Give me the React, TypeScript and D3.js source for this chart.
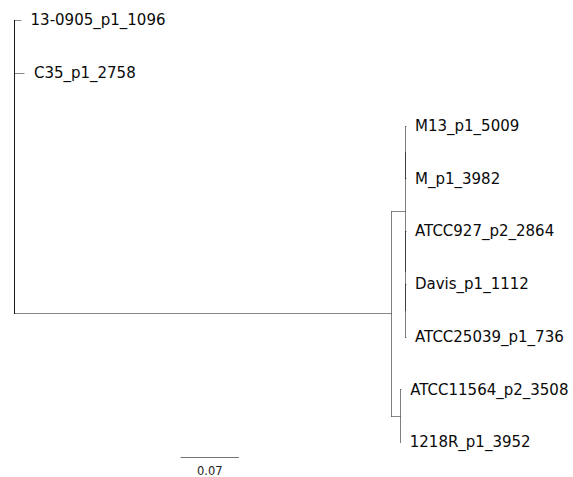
import React, { useEffect } from "react";
import * as d3 from "d3";

// tree table: node id, parent id, branch length (substitutions / site)
const nodeIds = [
  "root",
  "13-0905_p1_1096",
  "C35_p1_2758",
  "n1",
  "n2",
  "n3",
  "M13_p1_5009",
  "M_p1_3982",
  "n4",
  "ATCC927_p2_2864",
  "n5",
  "Davis_p1_1112",
  "ATCC25039_p1_736",
  "n6",
  "ATCC11564_p2_3508",
  "1218R_p1_3952",
];
const parentIds = [
  "",
  "root",
  "root",
  "root",
  "n1",
  "n2",
  "n3",
  "n3",
  "n2",
  "n4",
  "n4",
  "n5",
  "n5",
  "n1",
  "n6",
  "n6",
];
const branchLengths = [
  0, 0.0085, 0.0125, 0.453, 0.0167, 0, 0.0003, 0.0003, 0, 0.0003, 0, 0.0003,
  0.0003, 0.0104, 0.0008, 0.0003,
];
const scaleBarValue = 0.07;
const scaleBarStart = 0.2;

const W = 573;
const H = 477;

export default function App() {
  useEffect(() => {
    document.body.style.margin = "0";
  }, []);

  const table = nodeIds.map((id, i) => ({
    id,
    parent: parentIds[i],
    len: branchLengths[i],
  }));
  const root = d3
    .stratify<any>()
    .id((d) => d.id)
    .parentId((d) => d.parent || null)(table);

  // x = distance from root
  const xScale = d3.scaleLinear().domain([0, 0.5]).range([14, 430.5]);
  const leaves = root.leaves();
  const yScale = d3
    .scalePoint()
    .domain(leaves.map((d) => d.id as string))
    .range([20, 442]);

  const pos = new Map<string, { x: number; y: number }>();
  const place = (n: any, dist: number) => {
    const d = dist + n.data.len;
    if (n.children) n.children.forEach((c: any) => place(c, d));
    const y = n.children
      ? (pos.get(n.children[0].id)!.y +
          pos.get(n.children[n.children.length - 1].id)!.y) /
        2
      : (yScale(n.id) as number);
    pos.set(n.id, { x: xScale(d), y });
  };
  place(root, 0);

  const snap = (v: number) => Math.round(v) + 0.5;

  const internals = root.descendants().filter((d) => d.children);
  const edges = root.descendants().filter((d) => d.parent);

  const lastY = yScale(leaves[leaves.length - 1].id as string) as number;
  const barY = snap(lastY + 15);

  return (
    <svg
      width={W}
      height={H}
      style={{ position: "absolute", left: 0, top: 0, background: "#fff" }}
    >
      <g fill="none" strokeWidth={1}>
        {internals.map((n) => {
          const p = pos.get(n.id!)!;
          const c = n.children!;
          const y0 = pos.get(c[0].id!)!.y;
          const y1 = pos.get(c[c.length - 1].id!)!.y;
          const isRoot = !n.parent;
          return (
            <line
              key={"v" + n.id}
              x1={snap(p.x)}
              x2={snap(p.x)}
              y1={snap(y0) - 0.5}
              y2={snap(y1) + 0.5}
              stroke={isRoot ? "#1a1a1a" : "#000"}
              strokeOpacity={isRoot ? 1 : 0.5}
            />
          );
        })}
        {edges.map((n) => {
          const p = pos.get(n.parent!.id!)!;
          const c = pos.get(n.id!)!;
          if (c.x - p.x < 0.2) return null;
          return (
            <line
              key={"h" + n.id}
              x1={snap(p.x)}
              x2={snap(c.x)}
              y1={snap(c.y)}
              y2={snap(c.y)}
              stroke="#000"
              strokeOpacity={0.47}
            />
          );
        })}
      </g>
      <g fontFamily="DejaVu Sans, sans-serif" fontSize={15} fill="#0a0a0a">
        {leaves.map((n) => {
          const p = pos.get(n.id!)!;
          return (
            <text key={"t" + n.id} x={p.x + 9.5} y={p.y} dy="0.36em">
              {n.id}
            </text>
          );
        })}
      </g>
      <line
        x1={xScale(scaleBarStart)}
        x2={xScale(scaleBarStart + scaleBarValue)}
        y1={barY}
        y2={barY}
        stroke="#000"
        strokeOpacity={0.55}
        strokeWidth={1}
      />
      <text
        x={(xScale(scaleBarStart) + xScale(scaleBarStart + scaleBarValue)) / 2}
        y={barY + 13}
        dy="0.35em"
        textAnchor="middle"
        fontFamily="DejaVu Sans, sans-serif"
        fontSize={11.5}
        fill="#222"
      >
        {scaleBarValue}
      </text>
    </svg>
  );
}
